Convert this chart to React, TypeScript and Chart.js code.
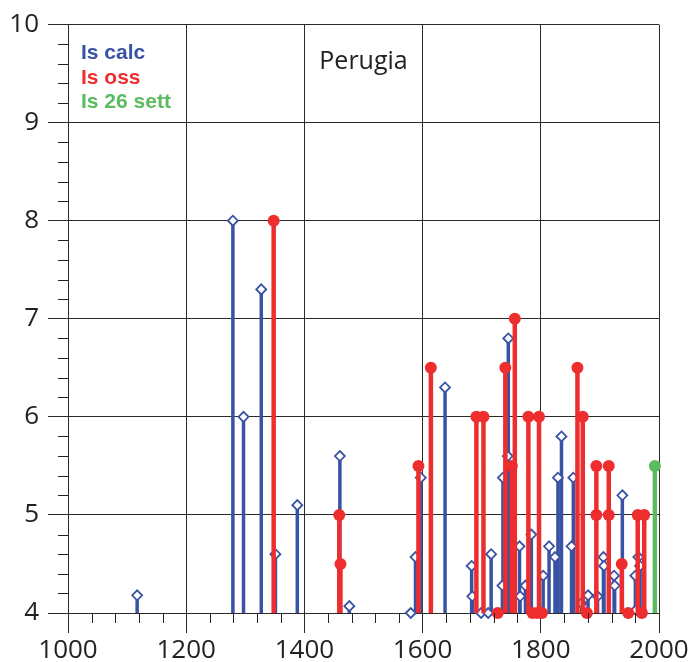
import React, { useEffect, useRef } from "react";
import { Chart, registerables } from "chart.js";

Chart.register(...registerables);

// ---- Data ----
const calcYears = [1117, 1279, 1297, 1327, 1351, 1388, 1460, 1476, 1580, 1588, 1597, 1638, 1683, 1684, 1699, 1711, 1716, 1735, 1736, 1744, 1745, 1764, 1765, 1774, 1784, 1804, 1814, 1824, 1829, 1835, 1852, 1855, 1869, 1880, 1896, 1906, 1907, 1924, 1925, 1938, 1960, 1961, 1965, 1968];
const calcValues = [4.18, 8.0, 6.0, 7.3, 4.6, 5.1, 5.6, 4.07, 4.0, 4.57, 5.38, 6.3, 4.48, 4.17, 4.0, 4.0, 4.6, 4.28, 5.38, 5.6, 6.8, 4.68, 4.17, 4.28, 4.8, 4.38, 4.68, 4.57, 5.38, 5.8, 4.68, 5.38, 4.1, 4.18, 4.17, 4.57, 4.48, 4.38, 4.28, 5.2, 4.38, 4.03, 4.57, 4.48];

const ossYears = [1348, 1459, 1461, 1593, 1614, 1691, 1703, 1727, 1740, 1751, 1756, 1779, 1786, 1794, 1797, 1802, 1862, 1871, 1878, 1894, 1894, 1915, 1915, 1937, 1948, 1964, 1971, 1975];
const ossValues = [8.0, 5.0, 4.5, 5.5, 6.5, 6.0, 6.0, 4.0, 6.5, 5.5, 7.0, 6.0, 4.0, 4.0, 6.0, 4.0, 6.5, 6.0, 4.0, 5.5, 5.0, 5.5, 5.0, 4.5, 4.0, 5.0, 4.0, 5.0];

const settYears = [1993];
const settValues = [5.5];

const legendLabels = ["Is calc", "Is oss", "Is 26 sett"];
const chartTitle = "Perugia";
const xTicks = [1000, 1200, 1400, 1600, 1800, 2000];
const yTicks = [4, 5, 6, 7, 8, 9, 10];

const BLUE = "#3953a4";
const RED = "#ee2e2e";
const GREEN = "#5dbb5f";
const BASE = 4;

function stems(xs: number[], ys: number[]) {
  const out: { x: number; y: number | null }[] = [];
  xs.forEach((x, i) => {
    out.push({ x, y: BASE });
    out.push({ x, y: ys[i] });
    out.push({ x, y: null });
  });
  return out;
}

const minorTicks = {
  id: "minorTicks",
  afterDraw(chart: any) {
    const ctx = chart.ctx;
    const xs = chart.scales.x;
    const ys = chart.scales.y;
    const area = chart.chartArea;
    ctx.save();
    ctx.strokeStyle = "#222";
    ctx.lineWidth = 1;
    for (let v = 1000; v <= 2000; v += 40) {
      if (v % 200 === 0) continue;
      const px = Math.round(xs.getPixelForValue(v)) + 0.5;
      ctx.beginPath();
      ctx.moveTo(px, area.bottom);
      ctx.lineTo(px, area.bottom + 10);
      ctx.stroke();
    }
    for (let k = 0; k <= 30; k++) {
      if (k % 5 === 0) continue;
      const v = 4 + k * 0.2;
      const py = Math.round(ys.getPixelForValue(v)) + 0.5;
      ctx.beginPath();
      ctx.moveTo(area.left - 10, py);
      ctx.lineTo(area.left, py);
      ctx.stroke();
    }
    // title
    ctx.fillStyle = "#222";
    ctx.font = "25px 'Open Sans'";
    ctx.textAlign = "center";
    ctx.textBaseline = "alphabetic";
    ctx.fillText(chartTitle, (area.left + area.right) / 2, 69);
    // legend
    const colors = [BLUE, RED, GREEN];
    ctx.font = "bold 21px 'Liberation Sans'";
    ctx.textAlign = "left";
    legendLabels.forEach((t, i) => {
      ctx.fillStyle = colors[i];
      ctx.fillText(t, area.left + 13, 59 + i * 24.5);
    });
    ctx.restore();
  },
};

export default function App() {
  const ref = useRef<HTMLCanvasElement | null>(null);
  useEffect(() => {
    if (!ref.current) return;
    const topIdx = (c: any) => c.dataIndex % 3 === 1;
    const chart = new Chart(ref.current, {
      type: "scatter",
      data: {
        datasets: [
          {
            label: legendLabels[2],
            data: stems(settYears, settValues),
            showLine: true,
            spanGaps: false,
            borderColor: GREEN,
            borderWidth: 4.5,
            pointRadius: (c: any) => (topIdx(c) ? 6 : 0),
            pointBackgroundColor: GREEN,
            pointBorderColor: GREEN,
            pointBorderWidth: 0,
            clip: false,
            order: 0,
          } as any,
          {
            label: legendLabels[1],
            data: stems(ossYears, ossValues),
            showLine: true,
            spanGaps: false,
            borderColor: RED,
            borderWidth: 4.5,
            pointRadius: (c: any) => (topIdx(c) ? 6 : 0),
            pointBackgroundColor: RED,
            pointBorderColor: RED,
            pointBorderWidth: 0,
            clip: false,
            order: 1,
          } as any,
          {
            label: legendLabels[0],
            data: stems(calcYears, calcValues),
            showLine: true,
            spanGaps: false,
            borderColor: BLUE,
            borderWidth: 3.5,
            pointStyle: "rectRot",
            pointRadius: (c: any) => (topIdx(c) ? 5 : 0),
            pointBackgroundColor: "#ffffff",
            pointBorderColor: BLUE,
            pointBorderWidth: 1.8,
            clip: false,
            order: 2,
          } as any,
        ],
      },
      options: {
        responsive: false,
        animation: false,
        events: [],
        layout: { padding: { top: 22, right: 32, left: 0, bottom: 0 } },
        plugins: {
          legend: { display: false },
          tooltip: { enabled: false },
          title: { display: false },
        },
        scales: {
          x: {
            type: "linear",
            min: 1000,
            max: 2000,
            afterFit: (s: any) => {
              s.height = 49;
            },
            afterBuildTicks: (s: any) => {
              s.ticks = xTicks.map((v) => ({ value: v }));
            },
            ticks: {
              color: "#222",
              font: { family: "'Open Sans'", size: 26 },
              padding: 2,
              maxRotation: 0,
              autoSkip: false,
              callback: (v: any) => String(v),
            },
            grid: { color: "#2a2a2a", lineWidth: 1, tickLength: 20, drawTicks: true },
            border: { color: "#2a2a2a", width: 1 },
          },
          y: {
            type: "linear",
            min: 4,
            max: 10,
            afterFit: (s: any) => {
              s.width = 68;
            },
            afterBuildTicks: (s: any) => {
              s.ticks = yTicks.map((v) => ({ value: v }));
            },
            ticks: {
              color: "#222",
              font: { family: "'Open Sans'", size: 26 },
              padding: 9,
              autoSkip: false,
              callback: (v: any) => String(v),
            },
            grid: { color: "#2a2a2a", lineWidth: 1, tickLength: 20, drawTicks: true },
            border: { color: "#2a2a2a", width: 1 },
          },
        },
      },
      plugins: [minorTicks],
    });
    return () => chart.destroy();
  }, []);
  return (
    <div style={{ position: "absolute", left: 0, top: 0, width: 691, height: 662, background: "#fff" }}>
      <canvas ref={ref} width={691} height={662} style={{ display: "block" }} />
    </div>
  );
}
